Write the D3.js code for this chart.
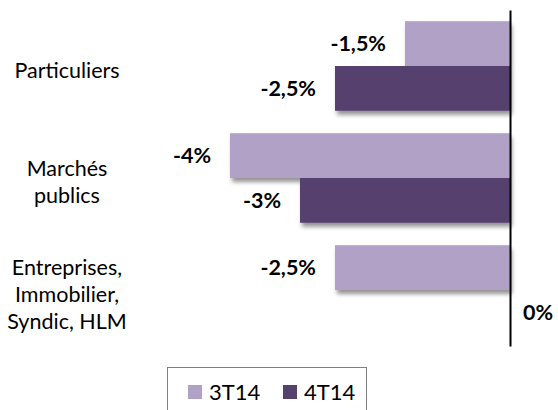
<!DOCTYPE html>
<html>
<head>
<meta charset="utf-8">
<script src="https://cdn.jsdelivr.net/npm/d3@7"></script>
<style>
  html, body { margin: 0; padding: 0; background: #fff; }
  text { font-family: Lato, "Open Sans", sans-serif; fill: #000; }
</style>
</head>
<body>
<div id="chart"></div>
<script>
const categories = [
  ["Particuliers"],
  ["Marchés", "publics"],
  ["Entreprises,", "Immobilier,", "Syndic, HLM"]
];
const seriesNames = ["3T14", "4T14"];
const values3T14 = [-1.5, -4, -2.5];
const values4T14 = [-2.5, -3, 0];
const seriesColors = ["#b2a1c7", "#56416e"];

const width = 558;
const height = 410;

const rows = [];
categories.forEach((c, i) => {
  rows.push({ cat: i, series: seriesNames[0], value: values3T14[i] });
  rows.push({ cat: i, series: seriesNames[1], value: values4T14[i] });
});

// French style: comma decimal, plain hyphen for minus
const fmt = v =>
  d3.format(".2~f")(v).replace("\u2212", "-").replace(".", ",") + "%";

const svg = d3
  .select("#chart")
  .append("svg")
  .attr("width", width)
  .attr("height", height);

const defs = svg.append("defs");
const shadow = defs
  .append("filter")
  .attr("id", "shadow")
  .attr("x", "-10%")
  .attr("y", "-10%")
  .attr("width", "130%")
  .attr("height", "150%");
shadow
  .append("feDropShadow")
  .attr("dx", 2)
  .attr("dy", 4)
  .attr("stdDeviation", 2.2)
  .attr("flood-color", "#000")
  .attr("flood-opacity", 0.42);

const x = d3.scaleLinear().domain([-4, 0]).range([230, 510]);

const y = d3
  .scaleBand()
  .domain(d3.range(categories.length))
  .range([10, 346])
  .paddingInner(0.2)
  .paddingOuter(0.1);

const ySeries = d3
  .scaleBand()
  .domain(seriesNames)
  .range([0, y.bandwidth()]);

const color = d3.scaleOrdinal().domain(seriesNames).range(seriesColors);

// Bars
const bars = svg.append("g").attr("id", "bars");
bars
  .selectAll("rect")
  .data(rows.filter(d => d.value !== 0))
  .enter()
  .append("rect")
  .attr("x", d => x(d.value))
  .attr("y", d => y(d.cat) + ySeries(d.series))
  .attr("width", d => x(0) - x(d.value))
  .attr("height", ySeries.bandwidth())
  .attr("fill", d => color(d.series))
  .attr("filter", "url(#shadow)");

// Value labels
svg
  .append("g")
  .attr("id", "labels")
  .selectAll("text")
  .data(rows)
  .enter()
  .append("text")
  .attr("x", d => (d.value === 0 ? x(0) + 13 : x(d.value) - 19))
  .attr("y", d => y(d.cat) + ySeries(d.series) + ySeries.bandwidth() / 2)
  .attr("dy", "0.36em")
  .attr("text-anchor", d => (d.value === 0 ? "start" : "end"))
  .style("font-size", "21.5px")
  .style("font-weight", "bold")
  .text(d => fmt(d.value));

// Zero axis line
svg
  .append("g")
  .attr("transform", `translate(${x(0)},0)`)
  .call(d3.axisRight(y).tickSize(0).tickSizeOuter(0).tickFormat(""))
  .call(g => g.select(".domain").attr("stroke", "#000").attr("stroke-width", 2));

// Category labels
const lineH = 27;
const catLabels = svg
  .append("g")
  .attr("id", "categories")
  .selectAll("text")
  .data(categories)
  .enter()
  .append("text")
  .attr("text-anchor", "middle")
  .style("font-size", "21.5px");
catLabels
  .selectAll("tspan")
  .data((d, i) => d.map((line, j) => ({ line, j, n: d.length, cat: i })))
  .enter()
  .append("tspan")
  .attr("x", 67)
  .attr("y", d => y(d.cat) + y.bandwidth() / 2 + 4 + (d.j - (d.n - 1) / 2) * lineH)
  .attr("dy", "0.36em")
  .text(d => d.line);

// Legend
const legend = svg.append("g").attr("id", "legend");
legend
  .append("rect")
  .attr("x", 167.5)
  .attr("y", 367.5)
  .attr("width", 199)
  .attr("height", 60)
  .attr("fill", "#fff")
  .attr("stroke", "#7f7f7f");
const items = legend
  .selectAll("g.item")
  .data(seriesNames)
  .enter()
  .append("g")
  .attr("class", "item")
  .attr("transform", (d, i) => `translate(${188 + i * 95},385)`);
items
  .append("rect")
  .attr("width", 14)
  .attr("height", 14)
  .attr("fill", d => color(d));
items
  .append("text")
  .attr("x", 21)
  .attr("y", 7)
  .attr("dy", "0.36em")
  .style("font-size", "22px")
  .text(d => d);
</script>
</body>
</html>
